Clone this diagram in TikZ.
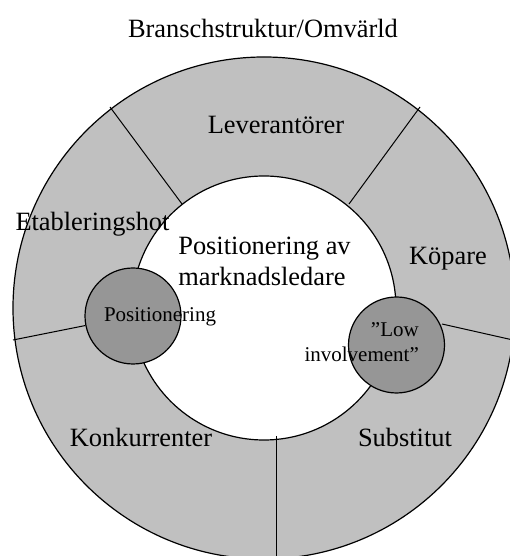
\documentclass[tikz,border=0pt]{standalone}
\usepackage{fontspec}
\setmainfont{Liberation Serif}
\definecolor{ringgray}{RGB}{192,192,192}
\definecolor{dotgray}{RGB}{150,150,150}
\begin{document}
\begin{tikzpicture}[x=1pt,y=1pt,
  ring/.style={draw=black, line width=1.2pt, fill=ringgray},
  hole/.style={draw=black, line width=1.2pt, fill=white},
  divider/.style={draw=black, line width=1pt},
  dot/.style={circle, draw=black, line width=1.2pt, fill=dotgray, minimum size=96pt, inner sep=0pt},
  bigtxt/.style={inner sep=0pt, font=\fontsize{26.4}{30.4}\selectfont},
  smalltxt/.style={inner sep=0pt, font=\fontsize{21}{25}\selectfont}]
\useasboundingbox (0,0) rectangle (510,556);
\clip (0,0) rectangle (510,556);
\coordinate (C) at (264,248);
% ring
\fill[ringgray] (C) circle (251);
\draw[line width=1.2pt] (C) circle (251);
\draw[hole] (C) circle (132);
% dividers
\coordinate (TLo) at (110,449);
\coordinate (TLi) at (182,352);
\coordinate (TRo) at (420,449);
\coordinate (TRi) at (349,352);
\coordinate (Lo) at (13,216);
\coordinate (Ro) at (513,216);
\coordinate (Ri) at (442,232);
\coordinate (Bi) at (276.7,120);
\coordinate (Bo) at (276.7,-5);
\draw[divider] (TLo) -- (TLi);
\draw[divider] (TRo) -- (TRi);
\draw[divider] (Bi) -- (Bo);
% small circles
\node[dot] (sL) at (133,240) {};
\node[dot] (sR) at (396.5,211) {};
\draw[divider] (Lo) -- (sL);
\draw[divider] (Ri) -- (Ro);
% texts
\node[bigtxt, anchor=base] (bransch) at (263,518) {Branschstruktur/Omvärld};
\node[bigtxt, anchor=base] (lev) at (276,422) {Leverantörer};
\node[bigtxt, anchor=base] (etab) at (92.5,325) {Etableringshot};
\node[bigtxt, anchor=base] (pos1) at (264.5,301) {Positionering av};
\node[bigtxt, anchor=base] (pos2) at (262,270) {marknadsledare};
\node[bigtxt, anchor=base] (kop) at (448,291) {Köpare};
\node[smalltxt, anchor=base] (posS) at (160,234) {Positionering};
\node[smalltxt, anchor=base east] (low1) at (419,219) {”Low};
\node[smalltxt, anchor=base east] (low2) at (419,194) {involvement”};
\node[bigtxt, anchor=base] (konk) at (141,109) {Konkurrenter};
\node[bigtxt, anchor=base] (subs) at (405,109) {Substitut};
\end{tikzpicture}
\end{document}
